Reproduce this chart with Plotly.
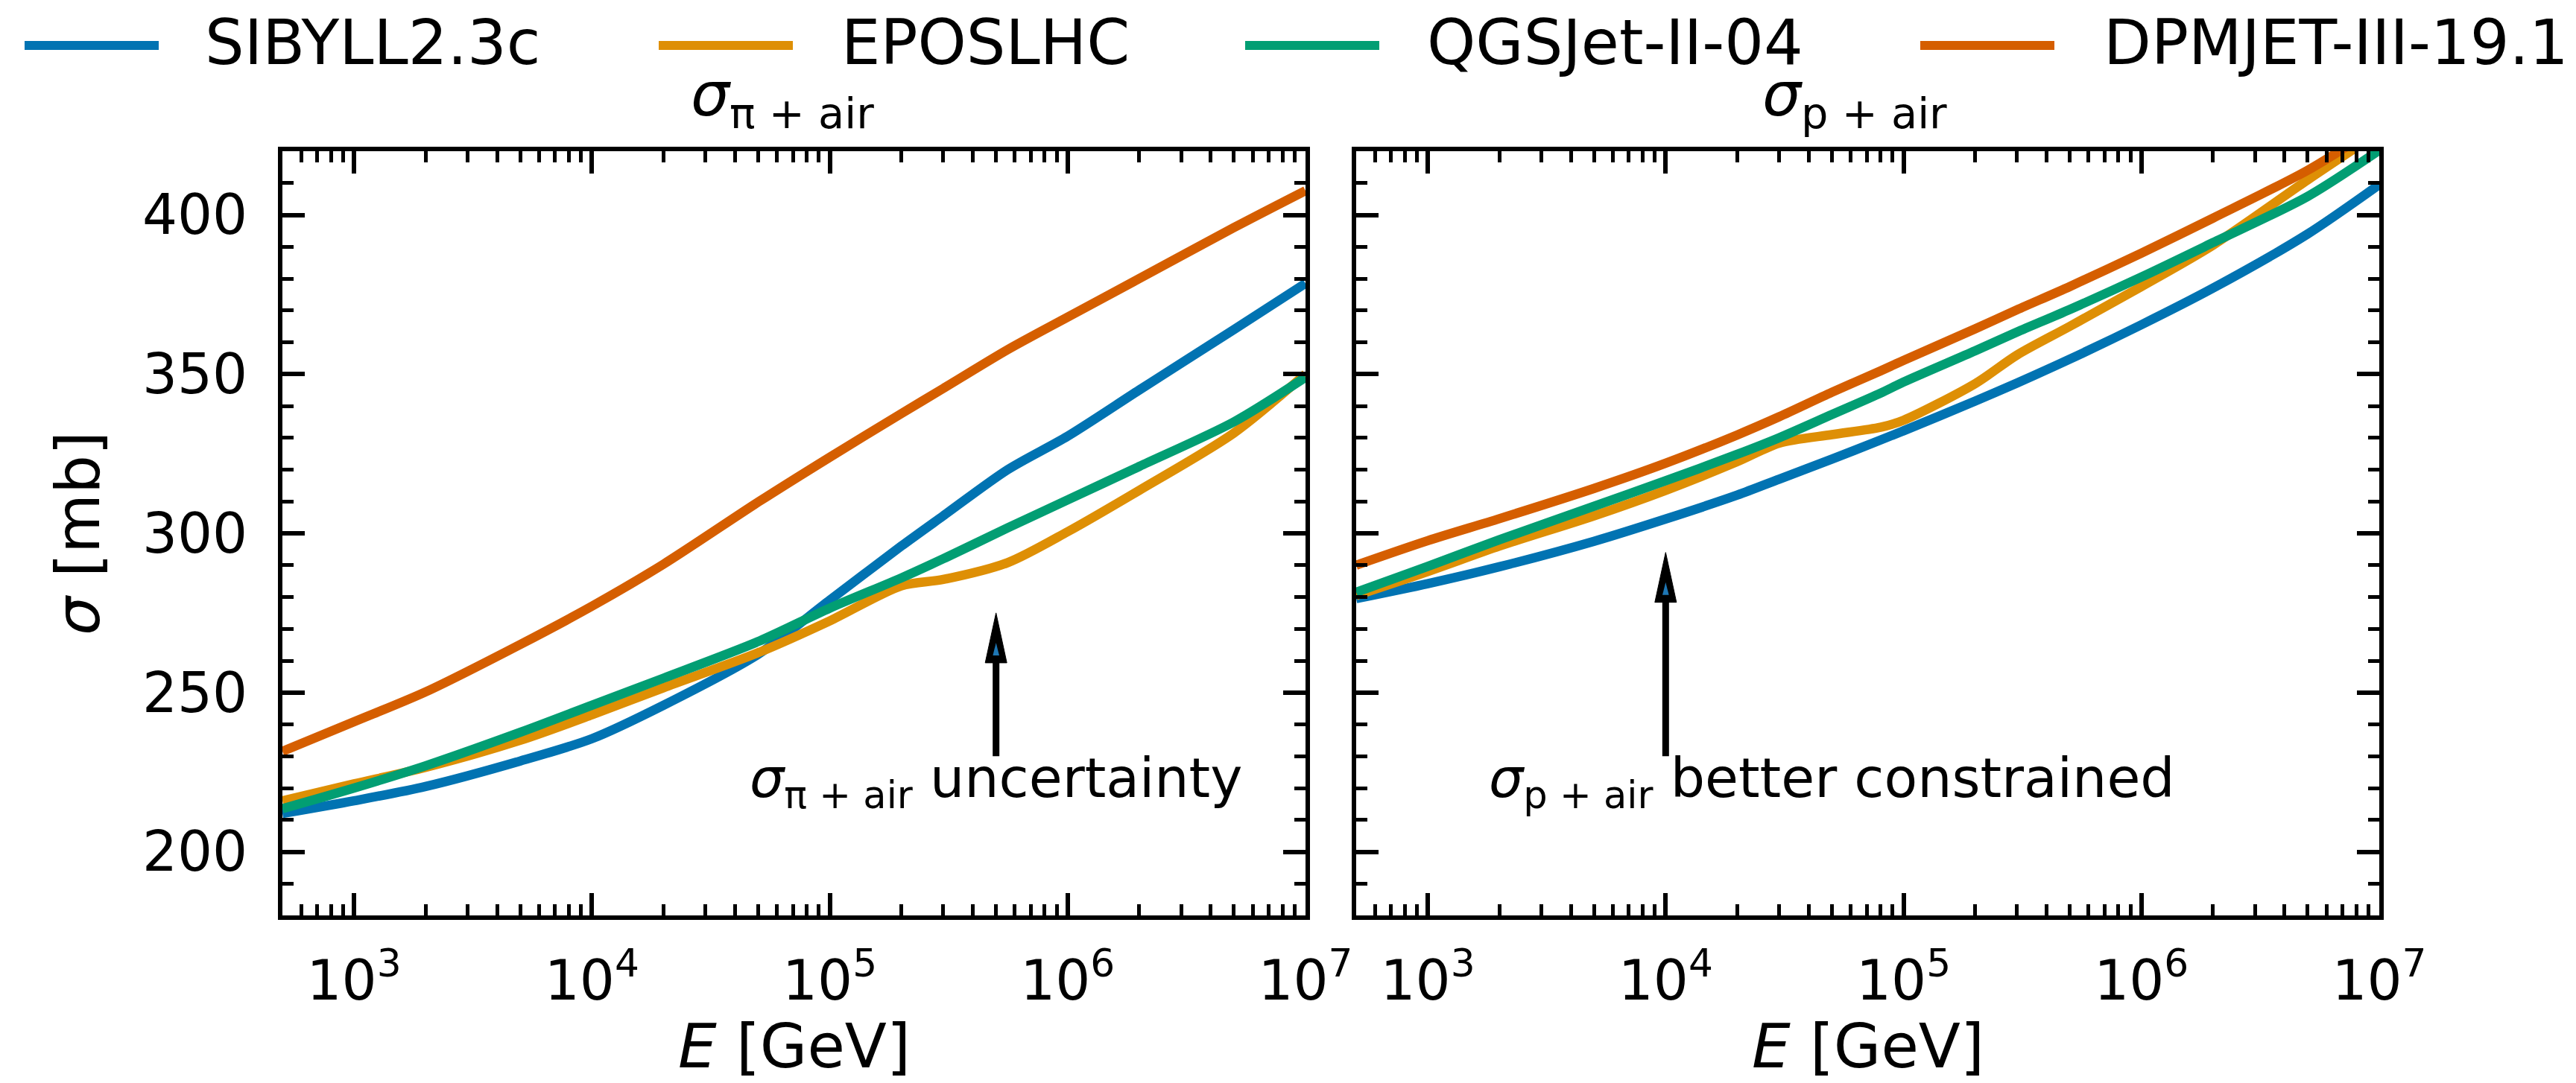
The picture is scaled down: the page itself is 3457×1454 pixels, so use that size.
import numpy as np
import plotly.graph_objects as go

# ---------------------------------------------------------------------------
# Hadron-air inelastic cross sections (mb) vs. lab energy (GeV)
# ---------------------------------------------------------------------------
MODELS = ["SIBYLL2.3c", "EPOSLHC", "QGSJet-II-04", "DPMJET-III-19.1"]
COLORS = ["#0173B2", "#DE8F05", "#029E73", "#D55E00"]

# pion-air
E_PI = [5e2, 1e3, 2e3, 5e3, 1e4, 2e4, 5e4, 1e5, 2e5, 3e5, 5.6e5, 1e6, 2e6, 5e6, 1e7]
SIG_PI_SIBYLL = [212.0, 216.0, 220.5, 228.5, 235.5, 246.0, 262.0, 279.0, 296.0, 305.5,
                 320.0, 330.5, 345.0, 364.0, 378.5]
SIG_PI_EPOS = [216.0, 221.3, 226.5, 235.0, 243.0, 251.5, 262.5, 272.5, 283.5, 285.5,
               290.8, 300.5, 313.5, 331.5, 350.0]
SIG_PI_QGSJET = [213.5, 220.0, 227.0, 237.5, 246.0, 254.5, 266.0, 276.5, 286.0, 292.0,
                 301.7, 310.5, 321.0, 335.0, 349.0]
SIG_PI_DPMJET = [231.5, 240.8, 250.2, 265.1, 277.1, 290.3, 309.8, 323.9, 337.6, 345.5,
                 357.7, 367.9, 380.0, 396.0, 407.6]

# proton-air
E_P = [5e2, 1e3, 2e3, 5e3, 1e4, 2e4, 3e4, 5e4, 8e4, 1e5, 2e5, 3e5, 5e5, 1e6, 2e6, 5e6, 1e7]
SIG_P_SIBYLL = [279.5, 284.2, 289.5, 297.5, 304.5, 312.0, 317.0, 323.3, 329.3, 332.2,
                341.5, 347.2, 354.7, 365.5, 377.0, 394.0, 409.5]
SIG_P_EPOS = [280.5, 288.0, 296.0, 305.5, 313.5, 322.5, 328.3, 331.0, 333.3, 335.5,
              347.0, 356.0, 365.0, 377.5, 390.5, 411.0, 426.0]
SIG_P_QGSJET = [281.5, 289.6, 298.0, 308.5, 316.5, 324.8, 330.0, 337.3, 344.0, 347.5,
                357.3, 363.2, 370.3, 380.5, 391.3, 405.8, 420.3]
SIG_P_DPMJET = [290.0, 297.7, 304.6, 314.1, 322.0, 330.9, 336.6, 344.3, 351.0, 354.3,
                364.2, 370.2, 377.5, 388.0, 399.0, 414.0, 428.0]

PI_SERIES = [SIG_PI_SIBYLL, SIG_PI_EPOS, SIG_PI_QGSJET, SIG_PI_DPMJET]
P_SERIES = [SIG_P_SIBYLL, SIG_P_EPOS, SIG_P_QGSJET, SIG_P_DPMJET]

X_MIN, X_MAX = 5e2, 1e7
Y_MIN, Y_MAX = 180, 420
Y_TICKS = [200, 250, 300, 350, 400]
X_TICKS = [1e3, 1e4, 1e5, 1e6, 1e7]
X_TICKTEXT = ["10<sup>3</sup>", "10<sup>4</sup>", "10<sup>5</sup>", "10<sup>6</sup>", "10<sup>7</sup>"]

# arrows: energy, tail and tip of each arrow (mb)
ARROW_PI = dict(E=5e5, tail=230.0, tip=275.0)
ARROW_P = dict(E=1e4, tail=230.0, tip=294.0)
TEXT_PI = dict(E=5e5, y=222.0, text="<i>σ</i><sub>π + air</sub> uncertainty")
TEXT_P = dict(E=5e4, y=222.0, text="<i>σ</i><sub>p + air</sub> better constrained")

# ---------------------------------------------------------------------------
W, H = 3457, 1454
FONT = "DejaVu Sans"
LEFT_DOM = [379 / W, 1752 / W]
RIGHT_DOM = [1820 / W, 3193 / W]
Y_DOM = [1 - 1229 / H, 1 - 203 / H]

plot_w = (LEFT_DOM[1] - LEFT_DOM[0]) * W
plot_h = (Y_DOM[1] - Y_DOM[0]) * H
PX_PER_DEC = plot_w / (np.log10(X_MAX) - np.log10(X_MIN))
PX_PER_MB = plot_h / (Y_MAX - Y_MIN)

LINE = dict(width=12.5, shape="spline", smoothing=0.8)

fig = go.Figure()

for name, color, ys in zip(MODELS, COLORS, PI_SERIES):
    fig.add_trace(go.Scatter(x=E_PI, y=ys, mode="lines", name=name,
                             line=dict(LINE, color=color),
                             xaxis="x", yaxis="y", showlegend=False))
for name, color, ys in zip(MODELS, COLORS, P_SERIES):
    fig.add_trace(go.Scatter(x=E_P, y=ys, mode="lines", name=name,
                             line=dict(LINE, color=color),
                             xaxis="x2", yaxis="y2", showlegend=False))


def add_arrow(arrow, xaxis, yaxis):
    """Vertical arrow with a narrow black head (blue sliver inside)."""
    head_len = 67 / PX_PER_MB
    half_w = 14.5 / PX_PER_DEC
    e, tip, tail = arrow["E"], arrow["tip"], arrow["tail"]
    base = tip - head_len
    fig.add_trace(go.Scatter(x=[e, e], y=[tail, base + 1], mode="lines",
                             line=dict(color="black", width=9),
                             xaxis=xaxis, yaxis=yaxis, showlegend=False, hoverinfo="skip"))
    fig.add_trace(go.Scatter(x=[e * 10 ** -half_w, e, e * 10 ** half_w, e * 10 ** -half_w],
                             y=[base, tip, base, base], mode="lines", fill="toself",
                             fillcolor="black", line=dict(color="black", width=1),
                             xaxis=xaxis, yaxis=yaxis, showlegend=False, hoverinfo="skip"))
    s_w = 4.3 / PX_PER_DEC
    s_top = tip - 40 / PX_PER_MB
    s_bot = tip - 57 / PX_PER_MB
    fig.add_trace(go.Scatter(x=[e * 10 ** -s_w, e, e * 10 ** s_w, e * 10 ** -s_w],
                             y=[s_bot, s_top, s_bot, s_bot], mode="lines", fill="toself",
                             fillcolor="#1f77b4", line=dict(width=0),
                             xaxis=xaxis, yaxis=yaxis, showlegend=False, hoverinfo="skip"))


add_arrow(ARROW_PI, "x", "y")
add_arrow(ARROW_P, "x2", "y2")

axis_common = dict(
    showgrid=False, zeroline=False, showline=True, linecolor="black", linewidth=6,
    mirror="ticks", ticks="inside", ticklen=30, tickwidth=5.5, tickcolor="black",
    tickfont=dict(family=FONT, size=74, color="black"), automargin=False,
)
xaxis_common = dict(
    axis_common, type="log", range=[np.log10(X_MIN), np.log10(X_MAX)],
    tickmode="array", tickvals=X_TICKS, ticktext=X_TICKTEXT, ticklabelstandoff=18,
    minor=dict(ticks="inside", ticklen=15, tickwidth=5, tickcolor="black", dtick="D1"),
)
yaxis_common = dict(
    axis_common, domain=Y_DOM, range=[Y_MIN, Y_MAX], tickmode="array", tickvals=Y_TICKS,
    minor=dict(ticks="inside", ticklen=15, tickwidth=5, tickcolor="black", dtick=10),
)

fig.update_layout(
    width=W, height=H, autosize=False,
    margin=dict(l=0, r=0, t=0, b=0, autoexpand=False),
    paper_bgcolor="white", plot_bgcolor="white",
    showlegend=False, hovermode=False,
    font=dict(family=FONT, color="black"),
    xaxis=dict(xaxis_common, domain=LEFT_DOM, anchor="y"),
    xaxis2=dict(xaxis_common, domain=RIGHT_DOM, anchor="y2"),
    yaxis=dict(yaxis_common, anchor="x", ticklabelstandoff=26),
    yaxis2=dict(yaxis_common, anchor="x2", matches="y", showticklabels=False),
)

annotations = []
shapes = []

# legend row across the top
LEG_Y = 1 - 61 / H
LEG_LINES = [(33, 213), (884, 1064), (1671, 1851), (2577, 2757)]
LEG_TEXT_X = [273, 1127, 1913, 2821]
for (x0, x1), tx, name, color in zip(LEG_LINES, LEG_TEXT_X, MODELS, COLORS):
    shapes.append(dict(type="line", xref="paper", yref="paper", x0=x0 / W, x1=x1 / W,
                       y0=LEG_Y, y1=LEG_Y, line=dict(color=color, width=12)))
    annotations.append(dict(xref="paper", yref="paper", x=tx / W, y=1 - 58 / H,
                            xanchor="left", yanchor="middle", showarrow=False, text=name,
                            font=dict(family=FONT, size=83, color="black")))

# panel titles
annotations.append(dict(xref="paper", yref="paper", x=1050 / W, y=1 - 133 / H,
                        xanchor="center", yanchor="middle", showarrow=False,
                        text="<i>σ</i><sub>π + air</sub>",
                        font=dict(family=FONT, size=82, color="black")))
annotations.append(dict(xref="paper", yref="paper", x=2489 / W, y=1 - 133 / H,
                        xanchor="center", yanchor="middle", showarrow=False,
                        text="<i>σ</i><sub>p + air</sub>",
                        font=dict(family=FONT, size=82, color="black")))

# axis titles
for xc in [(LEFT_DOM[0] + LEFT_DOM[1]) / 2, (RIGHT_DOM[0] + RIGHT_DOM[1]) / 2]:
    annotations.append(dict(xref="paper", yref="paper", x=xc, y=1 - 1404 / H,
                            xanchor="center", yanchor="middle", showarrow=False,
                            text="<i>E</i> [GeV]",
                            font=dict(family=FONT, size=82, color="black")))
annotations.append(dict(xref="paper", yref="paper", x=104 / W, y=(Y_DOM[0] + Y_DOM[1]) / 2,
                        xanchor="center", yanchor="middle", showarrow=False, textangle=-90,
                        text="<i>σ</i> [mb]",
                        font=dict(family=FONT, size=82, color="black")))

# arrow captions (log axes take log10 positions for annotations)
for t, xr, yr in [(TEXT_PI, "x", "y"), (TEXT_P, "x2", "y2")]:
    annotations.append(dict(xref=xr, yref=yr, x=np.log10(t["E"]), y=t["y"],
                            xanchor="center", yanchor="middle", showarrow=False,
                            text=t["text"], font=dict(family=FONT, size=73, color="black")))

fig.update_layout(annotations=annotations, shapes=shapes)

fig.write_html("out.html", config={"displayModeBar": False})
